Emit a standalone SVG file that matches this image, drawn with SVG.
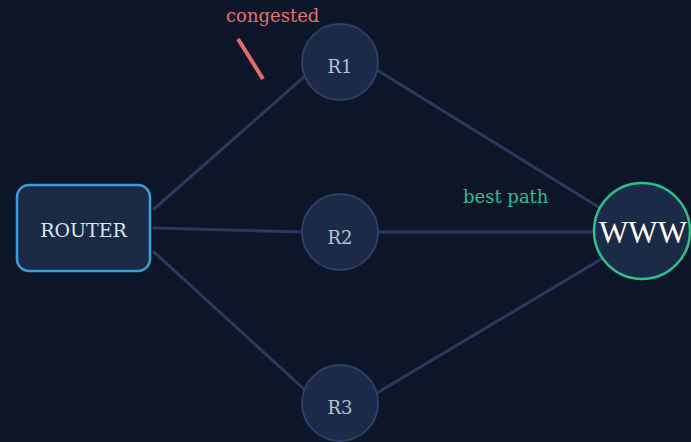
<svg xmlns="http://www.w3.org/2000/svg" width="691" height="442" viewBox="0 0 691 442">
  <style>
    .edge { stroke: #2a3a5e; stroke-width: 3; fill: none; stroke-linecap: round; }
    .hop { fill: #1b2a47; stroke: #2c3f66; stroke-width: 2; }
    .hop-label { font-family: "DejaVu Serif", "Liberation Serif", serif; font-size: 18px; fill: #b4c0d4; text-anchor: middle; }
    .note { font-family: "DejaVu Serif", "Liberation Serif", serif; font-size: 18px; }
  </style>
  <rect width="691" height="442" fill="#0d1628"/>

  <g id="connectors">
    <line class="edge" x1="154" y1="209" x2="305" y2="76"/>
    <line class="edge" x1="154" y1="228" x2="302" y2="232"/>
    <line class="edge" x1="154" y1="252" x2="305" y2="390"/>
    <line class="edge" x1="377" y1="70" x2="600" y2="208"/>
    <line class="edge" x1="378" y1="232" x2="594" y2="232"/>
    <line class="edge" x1="377" y1="393" x2="603" y2="258"/>
  </g>

  <g id="router">
    <rect x="17" y="185" width="133" height="86" rx="12" fill="#1a2a45" stroke="#3a9fd6" stroke-width="2.5"/>
    <text x="83.5" y="237" font-family="DejaVu Serif, Liberation Serif, serif" font-size="19" fill="#dde4ee" text-anchor="middle">ROUTER</text>
  </g>

  <g id="r1">
    <circle class="hop" cx="340" cy="62" r="38"/>
    <text class="hop-label" x="340" y="73">R1</text>
  </g>

  <g id="r2">
    <circle class="hop" cx="340" cy="232" r="38"/>
    <text class="hop-label" x="340" y="244">R2</text>
  </g>

  <g id="r3">
    <circle class="hop" cx="340" cy="403" r="38"/>
    <text class="hop-label" x="340" y="414">R3</text>
  </g>

  <g id="www">
    <circle cx="642" cy="231" r="48" fill="#1b2a47" stroke="#2fbf8f" stroke-width="2.5"/>
    <text x="643" y="243" font-family="Liberation Serif, DejaVu Serif, serif" font-size="31" fill="#ffffff" text-anchor="middle">WWW</text>
  </g>

  <g id="congested">
    <line x1="238" y1="39" x2="263" y2="79" stroke="#e86a6a" stroke-width="4"/>
    <text class="note" x="226" y="22" fill="#e07272">congested</text>
  </g>

  <g id="best-path">
    <text class="note" x="463" y="203" fill="#2fbf8f">best path</text>
  </g>
</svg>
